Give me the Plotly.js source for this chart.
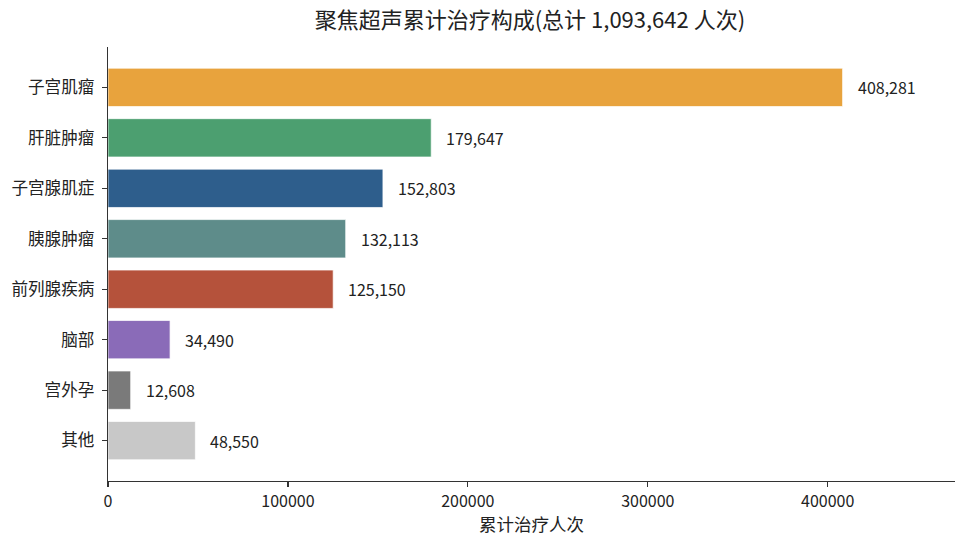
<!DOCTYPE html>
<html>
<head>
<meta charset="utf-8">
<script src="https://cdn.plot.ly/plotly-3.0.1.min.js"></script>
<style>html,body{margin:0;padding:0;background:#fff;}#chart{width:960px;height:545px;}</style>
</head>
<body>
<div id="chart"></div>
<script>
const categories = ["子宫肌瘤", "肝脏肿瘤", "子宫腺肌症", "胰腺肿瘤", "前列腺疾病", "脑部", "宫外孕", "其他"];
const values = [408281, 179647, 152803, 132113, 125150, 34490, 12608, 48550];
const colors = ["#E8A33D", "#4C9F70", "#2E5E8C", "#5E8C8A", "#B5523B", "#8A6BB8", "#7A7A7A", "#C8C8C8"];
const xTickVals = [0, 100000, 200000, 300000, 400000];
const xTickText = ["0", "100000", "200000", "300000", "400000"];
const titleText = "聚焦超声累计治疗构成(总计 1,093,642 人次)";
const xTitleText = "累计治疗人次";

const FONT = "Noto Sans CJK SC, Noto Sans, sans-serif";
const maxVal = Math.max(...values);

const trace = {
  type: "bar",
  orientation: "h",
  x: values,
  y: categories,
  width: 0.76,
  marker: { color: colors, line: { color: "rgba(255,255,255,0.7)", width: 1 } },
  hoverinfo: "x+y"
};

const annotations = values.map((v, i) => ({
  x: v, y: categories[i], xref: "x", yref: "y",
  text: v.toLocaleString("en-US"),
  showarrow: false, xanchor: "left", xshift: 13,
  font: { family: FONT, size: 16, color: "#222" }
}));

const layout = {
  width: 960, height: 545,
  margin: { l: 108, r: 5, t: 47, b: 64 },
  paper_bgcolor: "#fff", plot_bgcolor: "#fff",
  title: { text: titleText, x: 0.552, xanchor: "center", y: 0.962, yanchor: "middle",
           font: { family: FONT, size: 22, color: "#222" } },
  font: { family: FONT, color: "#222" },
  showlegend: false,
  xaxis: {
    range: [0, maxVal * 1.153],
    tickvals: xTickVals, ticktext: xTickText,
    ticks: "outside", ticklen: 5, tickwidth: 1.2, tickcolor: "#333",
    showline: true, linecolor: "#333", linewidth: 1.3,
    showgrid: false, zeroline: false,
    tickfont: { family: FONT, size: 16, color: "#222" },
    title: { text: xTitleText, font: { family: FONT, size: 17.5, color: "#222" }, standoff: 6 }
  },
  yaxis: {
    autorange: false,
    range: [categories.length - 1 + 0.8, -0.8],
    type: "category",
    categoryorder: "array", categoryarray: categories,
    ticks: "outside", ticklen: 5, tickwidth: 1.2, tickcolor: "#333",
    ticklabelstandoff: 4,
    showline: true, linecolor: "#333", linewidth: 1.3,
    showgrid: false, zeroline: false,
    tickfont: { family: FONT, size: 16.6, color: "#222" }
  },
  annotations: annotations
};

Plotly.newPlot("chart", [trace], layout, { displayModeBar: false, staticPlot: true });
</script>
</body>
</html>
